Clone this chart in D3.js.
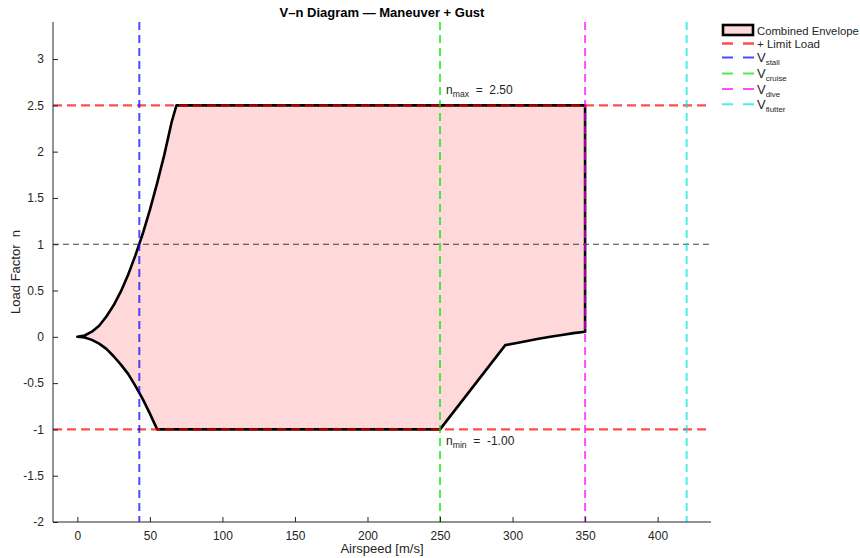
<!DOCTYPE html>
<html>
<head>
<meta charset="utf-8">
<script src="https://cdn.jsdelivr.net/npm/d3@7"></script>
<style>
  body { margin: 0; background: #fff; }
  text { font-family: "Liberation Sans", Arial, sans-serif; }
</style>
</head>
<body>
<div id="chart"></div>
<script>
// Combined envelope outline (airspeed m/s, load factor)
const envelopeV = [0, 5, 10, 15, 20, 25, 30, 35, 40, 45, 50, 55, 60, 65, 68.3,
                   350, 350, 342, 334, 326, 318, 310, 302, 295, 250,
                   55, 50, 45, 40, 35, 30, 25, 20, 15, 10, 5, 0];
const envelopeN = [0, 0.014, 0.055, 0.12, 0.22, 0.34, 0.49, 0.67, 0.88, 1.11, 1.37, 1.66, 1.97, 2.32, 2.5,
                   2.5, 0.055, 0.04, 0.02, 0.0, -0.02, -0.045, -0.07, -0.09, -1.0,
                   -1.0, -0.83, -0.67, -0.53, -0.40, -0.30, -0.21, -0.13, -0.074, -0.033, -0.008, 0];

// Limit loads
const nMax = 2.5;
const nMin = -1.0;

// Characteristic speeds
const speedNames = ["stall", "cruise", "dive", "flutter"];
const speedValues = [42.7, 250, 350, 420];
const speedColors = ["rgb(0,0,255)", "rgb(0,230,0)", "rgb(255,0,255)", "rgb(0,230,230)"];

// Ticks
const xTicks = [0, 50, 100, 150, 200, 250, 300, 350, 400];
const yTicks = [-2, -1.5, -1, -0.5, 0, 0.5, 1, 1.5, 2, 2.5, 3];

const width = 860, height = 558;
const margin = {top: 22, right: 149, bottom: 36, left: 53};
const innerW = width - margin.left - margin.right;
const innerH = height - margin.top - margin.bottom;
const axisColor = "#262626";

const svg = d3.select("#chart").append("svg")
    .attr("width", width)
    .attr("height", height);

const g = svg.append("g")
    .attr("transform", `translate(${margin.left},${margin.top})`);

const x = d3.scaleLinear().domain([-16.8, 436.8]).range([0, innerW]);
const y = d3.scaleLinear().domain([-2, 3.4]).range([innerH, 0]);

// Envelope
const pts = envelopeV.map((v, i) => [v, envelopeN[i]]);
const line = d3.line().x(d => x(d[0])).y(d => y(d[1]));

g.append("path")
    .attr("d", line(pts) + "Z")
    .attr("fill", "#ffd9d9")
    .attr("stroke", "#000")
    .attr("stroke-width", 2.6)
    .attr("stroke-linejoin", "round");

// n = 1 reference
g.append("line")
    .attr("x1", 0).attr("x2", innerW)
    .attr("y1", y(1)).attr("y2", y(1))
    .attr("stroke", "#000")
    .attr("stroke-opacity", 0.75)
    .attr("stroke-width", 1.1)
    .attr("stroke-dasharray", "6,4");

// Limit load lines
[nMax, nMin].forEach(n => {
    g.append("line")
        .attr("x1", 0).attr("x2", innerW)
        .attr("y1", y(n)).attr("y2", y(n))
        .attr("stroke", "rgb(255,0,0)")
        .attr("stroke-opacity", 0.7)
        .attr("stroke-width", 2.3)
        .attr("stroke-dasharray", "9,5");
});

// Speed lines
speedValues.forEach((v, i) => {
    g.append("line")
        .attr("x1", x(v)).attr("x2", x(v))
        .attr("y1", 0).attr("y2", innerH)
        .attr("stroke", speedColors[i])
        .attr("stroke-opacity", 0.7)
        .attr("stroke-width", 2)
        .attr("stroke-dasharray", "8,5");
});

// Annotations
function subText(sel, base, sub, rest, size) {
    sel.append("tspan").text(base);
    sel.append("tspan").attr("dy", 3).attr("font-size", size * 0.72).text(sub);
    if (rest) sel.append("tspan").attr("dy", -3).text(rest);
}
const annMax = g.append("text")
    .attr("x", x(250) + 6).attr("y", y(nMax) - 11)
    .attr("font-size", 12).attr("fill", axisColor)
    .attr("xml:space", "preserve");
subText(annMax, "n", "max", "  =  2.50", 12);

const annMin = g.append("text")
    .attr("x", x(250) + 6).attr("y", y(nMin) + 16)
    .attr("font-size", 12).attr("fill", axisColor)
    .attr("xml:space", "preserve");
subText(annMin, "n", "min", "  =  -1.00", 12);

// Axes (ticks pointing inward)
const xAxis = g.append("g")
    .attr("transform", `translate(0,${innerH})`)
    .call(d3.axisBottom(x).tickValues(xTicks).tickSizeInner(-5).tickSizeOuter(0).tickPadding(9));
const yAxis = g.append("g")
    .call(d3.axisLeft(y).tickValues(yTicks).tickFormat(d => String(d))
        .tickSizeInner(-5).tickSizeOuter(0).tickPadding(9));

[xAxis, yAxis].forEach(a => {
    a.select(".domain").attr("stroke", axisColor).attr("stroke-width", 1);
    a.selectAll(".tick line").attr("stroke", axisColor);
    a.selectAll(".tick text")
        .attr("fill", axisColor)
        .attr("font-size", 12)
        .attr("font-family", "Liberation Sans, Arial, sans-serif");
});
xAxis.select(".domain").attr("d", `M0,0H${innerW}`);
yAxis.select(".domain").attr("d", `M0,0V${innerH}`);

// Title and axis labels
svg.append("text")
    .attr("x", margin.left + innerW / 2).attr("y", 17)
    .attr("text-anchor", "middle")
    .attr("font-size", 13).attr("font-weight", "bold")
    .attr("fill", "#000")
    .text("V\u2013n Diagram \u2014 Maneuver + Gust");

svg.append("text")
    .attr("x", margin.left + innerW / 2).attr("y", 553)
    .attr("text-anchor", "middle")
    .attr("font-size", 13).attr("fill", axisColor)
    .text("Airspeed [m/s]");

svg.append("text")
    .attr("transform", `translate(20,${margin.top + innerH / 2}) rotate(-90)`)
    .attr("text-anchor", "middle")
    .attr("font-size", 13).attr("fill", axisColor)
    .attr("xml:space", "preserve")
    .text("Load Factor  n");

// Legend
const leg = svg.append("g").attr("transform", "translate(722,30)");
const rowY = [13.5, 27.5, 43.5, 59, 74.3];

leg.append("rect")
    .attr("x", 1).attr("y", -5)
    .attr("width", 30).attr("height", 10)
    .attr("fill", "#ffd9d9").attr("stroke", "#000").attr("stroke-width", 2.6);
leg.append("text")
    .attr("x", 35).attr("y", 4.5)
    .attr("font-size", 11.3).attr("fill", axisColor)
    .text("Combined Envelope");

const legendRows = [{label: "+ Limit Load", color: "rgb(255,0,0)", sub: null}]
    .concat(speedNames.map((s, i) => ({label: "V", color: speedColors[i], sub: s})));

legendRows.forEach((r, i) => {
    const ry = rowY[i];
    leg.append("line")
        .attr("x1", 0).attr("x2", 32)
        .attr("y1", ry).attr("y2", ry)
        .attr("stroke", r.color)
        .attr("stroke-opacity", 0.7)
        .attr("stroke-width", r.sub ? 2 : 2.3)
        .attr("stroke-dasharray", "11,10");
    const t = leg.append("text")
        .attr("x", 35).attr("y", ry + 4.5)
        .attr("font-size", r.sub ? 13 : 11.5).attr("fill", axisColor);
    if (r.sub) subText(t, "V", r.sub, null, 11);
    else t.text(r.label);
});
</script>
</body>
</html>
